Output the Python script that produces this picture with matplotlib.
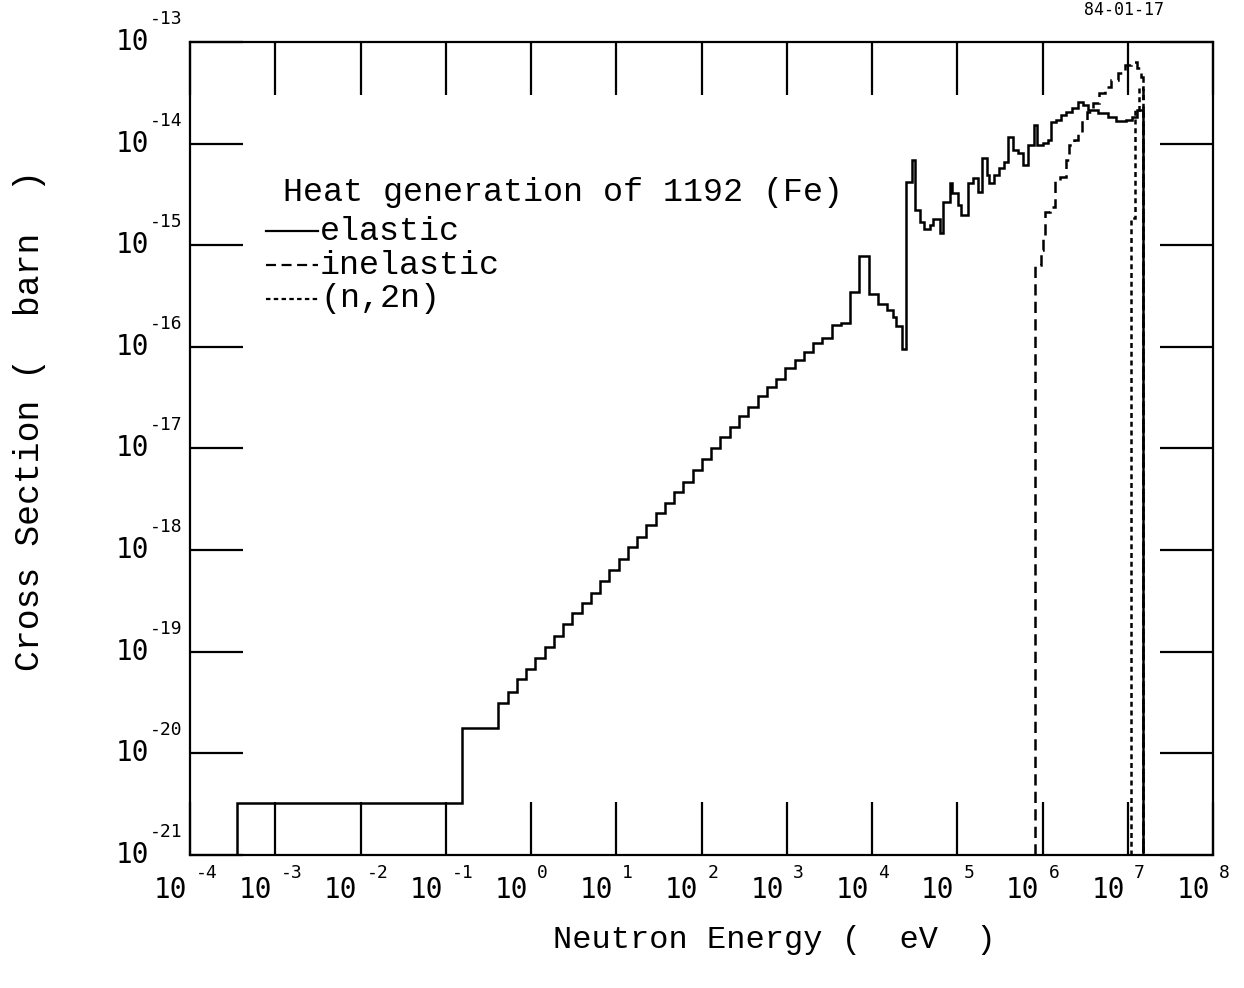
import matplotlib
matplotlib.use('Agg')
import matplotlib.pyplot as plt
from matplotlib.lines import Line2D
from matplotlib.ticker import NullLocator

# ---------------- data ----------------
x_exponents = list(range(-4, 9))
y_exponents = list(range(-21, -12))

# elastic: lower group edges (eV), values, last upper edge
el_lo = [3.56e-4, 0.154, 0.414, 0.5316, 0.6826, 0.8764, 1.125, 1.445, 1.855, 2.382,
         3.059, 3.928, 5.043, 6.476, 8.315, 10.68, 13.71, 17.60, 22.60, 29.02,
         37.27, 47.85, 61.44, 78.89, 101.3, 130.1, 167.0, 214.5, 275.4, 353.6,
         454.0, 582.9, 748.5, 961.1, 1234, 1585, 2035, 2613, 3355, 4307,
         5531, 7102, 9119, 11709, 15034, 17783, 19305, 22240, 24788, 29170,
         31828, 36580, 40868, 47890, 52475, 62770, 67380, 82220, 86517, 102800,
         111090, 132200, 154200, 176200, 192800, 220700, 237300, 271500, 310900, 355700,
         396500, 453900, 519300, 594400, 680400, 799900, 866900, 1.019e6, 1.166e6, 1.275e6,
         1.447e6, 1.656e6, 1.895e6, 2.228e6, 2.620e6, 2.998e6, 3.433e6, 4.499e6, 5.890e6, 7.310e6,
         9.572e6, 1.125e7, 1.288e7]
el_top = 1.49e7
el_val = [3.27e-21, 1.77e-20, 3.12e-20, 4.00e-20, 5.37e-20, 6.75e-20, 8.65e-20, 1.11e-19, 1.43e-19, 1.87e-19,
          2.40e-19, 3.01e-19, 3.78e-19, 4.95e-19, 6.35e-19, 8.15e-19, 1.07e-18, 1.34e-18, 1.76e-18, 2.31e-18,
          2.90e-18, 3.72e-18, 4.67e-18, 6.12e-18, 7.87e-18, 1.01e-17, 1.29e-17, 1.63e-17, 2.08e-17, 2.55e-17,
          3.28e-17, 4.02e-17, 4.82e-17, 6.18e-17, 7.41e-17, 8.89e-17, 1.09e-16, 1.22e-16, 1.64e-16, 1.71e-16,
          3.46e-16, 7.83e-16, 3.31e-16, 2.64e-16, 2.30e-16, 1.96e-16, 1.60e-16, 9.51e-17, 4.19e-15, 6.90e-15,
          2.22e-15, 1.69e-15, 1.44e-15, 1.58e-15, 1.81e-15, 1.32e-15, 2.66e-15, 4.09e-15, 3.27e-15, 2.49e-15,
          1.98e-15, 4.09e-15, 4.58e-15, 3.34e-15, 7.21e-15, 4.91e-15, 4.09e-15, 4.91e-15, 5.75e-15, 6.59e-15,
          1.16e-14, 8.65e-15, 8.07e-15, 6.15e-15, 9.68e-15, 1.52e-14, 9.68e-15, 1.01e-14, 1.08e-14, 1.63e-14,
          1.71e-14, 1.91e-14, 2.05e-14, 2.24e-14, 2.57e-14, 2.40e-14, 2.14e-14, 2.00e-14, 1.83e-14, 1.67e-14,
          1.71e-14, 1.83e-14, 2.14e-14]

# inelastic
inel_lo = [8.21e5, 9.66e5, 1.019e6, 1.076e6, 1.231e6, 1.409e6, 1.613e6, 1.895e6, 2.056e6, 2.351e6,
           2.620e6, 2.917e6, 3.341e6, 3.928e6, 4.616e6, 5.433e6, 6.383e6, 7.709e6, 9.311e6, 1.094e7,
           1.288e7, 1.435e7]
inel_top = 1.49e7
inel_val = [6.38e-16, 8.97e-16, 1.21e-15, 2.12e-15, 2.38e-15, 4.39e-15, 4.69e-15, 6.90e-15, 9.68e-15, 1.08e-14,
            1.30e-14, 1.71e-14, 2.05e-14, 2.51e-14, 3.15e-14, 3.61e-14, 4.23e-14, 4.95e-14, 5.94e-14, 6.35e-14,
            5.55e-14, 4.53e-14]

# (n,2n)
n2n_lo = [1.105e7, 1.221e7, 1.35e7]
n2n_top = 1.49e7
n2n_val = [1.85e-15, 2.14e-14, 3.61e-14]

legend_title = "Heat generation of 1192 (Fe)"
legend_labels = ["elastic", "inelastic", "(n,2n)"]
xlabel = "Neutron Energy (  eV  )"
ylabel = "Cross Section (  barn  )"
date_text = "84-01-17"

# ---------------- figure ----------------
W, H = 1244, 988
fig = plt.figure(figsize=(W / 100, H / 100), dpi=100)
L, R, T, B = 190, 1213, 42, 855
ax = fig.add_axes([L / W, 1 - B / H, (R - L) / W, (B - T) / H])
ax.set_xscale('log')
ax.set_yscale('log')
ax.set_xlim(1e-4, 1e8)
ax.set_ylim(1e-21, 1e-13)

mono = 'DejaVu Sans Mono'
lmono = 'Liberation Mono'
lw = 1.8
base = 1e-21

ax.stairs(el_val, el_lo + [el_top], baseline=base, color='k', lw=lw)
ax.stairs(inel_val, inel_lo + [inel_top], baseline=base, color='k', lw=lw,
          linestyle=(0, (4.5, 2.5)))
ax.stairs(n2n_val, n2n_lo + [n2n_top], baseline=base, color='k', lw=lw,
          linestyle=(0, (2.0, 1.5)))

ax.set_xticks([10.0 ** k for k in x_exponents])
ax.set_yticks([10.0 ** k for k in y_exponents])
ax.xaxis.set_minor_locator(NullLocator())
ax.yaxis.set_minor_locator(NullLocator())
ax.tick_params(which='major', direction='in', length=38, width=1.6,
               top=True, right=True, bottom=True, left=True,
               labelbottom=False, labelleft=False, colors='k')
for s in ax.spines.values():
    s.set_linewidth(1.6)

# tick labels
for k in x_exponents:
    ax.annotate('10', xy=(10.0 ** k, 0), xycoords=('data', 'axes fraction'),
                xytext=(-3, -35), textcoords='offset pixels', ha='right', va='center',
                fontsize=20, family=mono)
    ax.annotate(str(k), xy=(10.0 ** k, 0), xycoords=('data', 'axes fraction'),
                xytext=(6, -18), textcoords='offset pixels', ha='left', va='center',
                fontsize=13, family=mono)
for k in y_exponents:
    ax.annotate('10', xy=(0, 10.0 ** k), xycoords=('axes fraction', 'data'),
                xytext=(-41, 0), textcoords='offset pixels', ha='right', va='center',
                fontsize=20, family=mono)
    ax.annotate(str(k), xy=(0, 10.0 ** k), xycoords=('axes fraction', 'data'),
                xytext=(-40, 23), textcoords='offset pixels', ha='left', va='center',
                fontsize=13, family=mono)

def fx(x):
    return x / W

def fy(y):
    return 1 - y / H

# legend block
fig.text(fx(283), fy(193), legend_title, fontsize=24, family=lmono, va='center', ha='left')
rows_y = [231, 265, 299]
styles = ['-', (0, (4.5, 2.5)), (0, (2.0, 1.5))]
for yy, lab, st in zip(rows_y, legend_labels, styles):
    fig.add_artist(Line2D([fx(266), fx(318)], [fy(yy), fy(yy)], color='k', lw=1.6,
                          linestyle=st, transform=fig.transFigure))
    fig.text(fx(320), fy(yy), lab, fontsize=24, family=lmono, va='center', ha='left')

fig.text(fx(774), fy(940), xlabel, fontsize=23, family=lmono, ha='center', va='center')
fig.text(fx(30), fy(420), ylabel, fontsize=25, family=lmono, ha='center', va='center',
         rotation=90)
fig.text(fx(1124), fy(10), date_text, fontsize=12, family=mono, ha='center', va='center')

fig.savefig('out.png', dpi=100, facecolor='white')
